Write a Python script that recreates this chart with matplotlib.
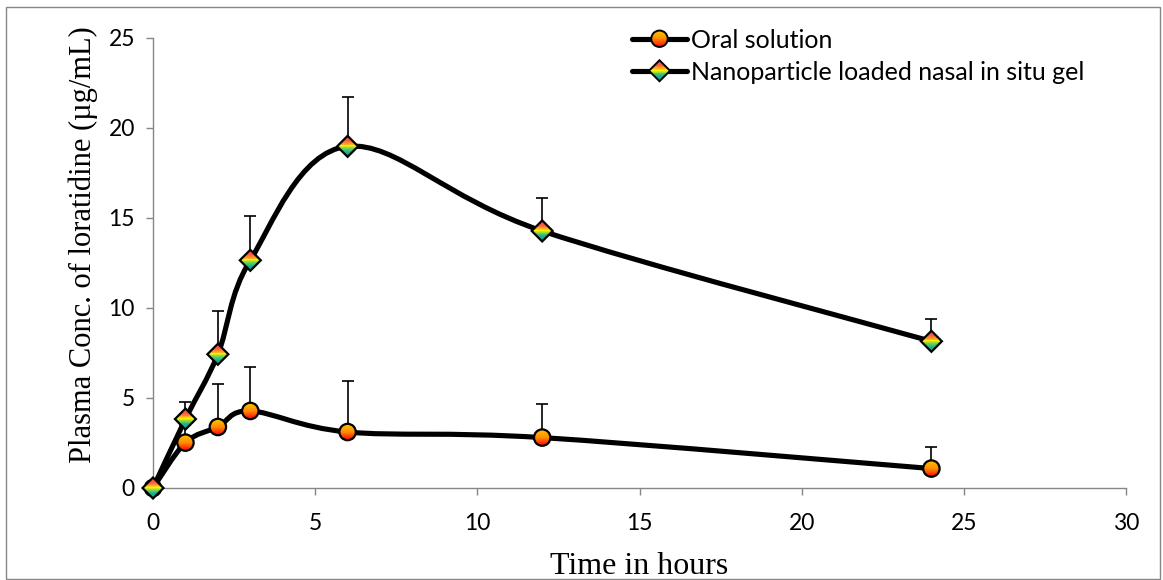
"""
    plasma concentration of loratidine vs time
"""

import numpy as np
import matplotlib.pyplot as plt
from matplotlib.path import Path
from matplotlib.patches import PathPatch, Rectangle, Circle, Polygon
from matplotlib.lines import Line2D
from matplotlib.legend_handler import HandlerBase
from matplotlib import transforms as mtransforms
from matplotlib.colors import LinearSegmentedColormap

time_h = [0, 1, 2, 3, 6, 12, 24]
oral = [0, 2.52, 3.39, 4.28, 3.11, 2.80, 1.08]
oral_sd = [0, 1.0, 2.41, 2.46, 2.83, 1.85, 1.20]
nano = [0, 3.83, 7.43, 12.65, 18.98, 14.28, 8.15]
nano_sd = [0, 0.97, 2.40, 2.45, 2.77, 1.85, 1.22]
labels = ['Oral solution', 'Nanoparticle loaded nasal in situ gel']

W, H = 1163, 580
fig = plt.figure(figsize=(W / 100, H / 100), dpi=100)
ax = fig.add_axes([153 / W, 1 - 488 / H, (1126 - 153) / W, 450 / H])

circle_cmap = LinearSegmentedColormap.from_list('c', ['#FF0000', '#FF8A00', '#FFC400'])
diamond_cmap = LinearSegmentedColormap.from_list(
    'd', [(0, '#009CA8'), (0.25, '#20B090'), (0.4, '#70D050'), (0.52, '#FFF200'),
          (0.63, '#FFA020'), (0.78, '#FF5A40'), (1, '#FF4858')])


def smooth_path(x, y):
    # excel style smoothed line (catmull-rom as cubic beziers)
    pts = np.column_stack([x, y]).astype(float)
    n = len(pts)
    verts = [pts[0]]
    codes = [Path.MOVETO]
    for i in range(n - 1):
        p0 = pts[i - 1] if i > 0 else pts[i]
        p1, p2 = pts[i], pts[i + 1]
        p3 = pts[i + 2] if i + 2 < n else pts[i + 1]
        verts += [p1 + (p2 - p0) / 6, p2 - (p3 - p1) / 6, p2]
        codes += [Path.CURVE4] * 3
    return Path(verts, codes)


def make_shape(kind, tr):
    if kind == 'o':
        return Circle((0, 0), 1, transform=tr)
    return Polygon([(0, 1), (1, 0), (0, -1), (-1, 0)], closed=True, transform=tr)


def gradient_marker(add, kind, cmap, tr, z, lw):
    shape = make_shape(kind, tr)
    arts = []
    nstrip = 24
    for k in range(nstrip):
        y0 = -1 + 2 * k / nstrip
        r = Rectangle((-1.05, y0), 2.1, 2 / nstrip + 0.01, transform=tr,
                      facecolor=cmap((k + 0.5) / nstrip), edgecolor='none', zorder=z)
        r.set_clip_path(shape)
        arts.append(r)
    edge = make_shape(kind, tr)
    edge.set_facecolor('none')
    edge.set_edgecolor('black')
    edge.set_linewidth(lw)
    edge.set_zorder(z + 0.1)
    arts.append(edge)
    for a in arts:
        add(a)
    return arts


for vals, sd in [(oral, oral_sd), (nano, nano_sd)]:
    ax.errorbar(time_h, vals, yerr=[np.zeros(len(sd)), sd], fmt='none', ecolor='black',
                elinewidth=1.2, capsize=4.5, capthick=1.2, zorder=1.5)

for vals in [oral, nano]:
    ax.add_patch(PathPatch(smooth_path(time_h, vals), fill=False, edgecolor='black',
                           lw=3.7, joinstyle='round', capstyle='round', zorder=2))

# markers (pixel sized shapes placed at data positions)
for vals, kind, cmap, r, z in [(oral, 'o', circle_cmap, 8.2, 3), (nano, 'D', diamond_cmap, 10.5, 4)]:
    for xv, yv in zip(time_h, vals):
        tr = mtransforms.Affine2D().scale(r) + mtransforms.ScaledTranslation(xv, yv, ax.transData)
        for a in gradient_marker(fig.add_artist, kind, cmap, tr, z, 1.6):
            a.set_clip_on(a.get_clip_path() is not None)


class GradHandler(HandlerBase):
    def __init__(self, kind, cmap, r):
        super().__init__()
        self.kind, self.cmap, self.r = kind, cmap, r

    def create_artists(self, legend, orig_handle, xdescent, ydescent, width, height, fontsize, trans):
        y = height / 2 - ydescent
        line = Line2D([-xdescent, width - xdescent], [y, y], color='black', lw=3.7,
                      solid_capstyle='round')
        line.set_transform(trans)
        tr = mtransforms.Affine2D().scale(self.r).translate(width / 2 - xdescent, y) + trans
        arts = [line]
        gradient_marker(arts.append, self.kind, self.cmap, tr, 3, 1.4)
        return arts


h1 = Line2D([], [])
h2 = Line2D([], [])
ax.legend([h1, h2], labels, loc='upper left', bbox_to_anchor=(632 / W, 1 - 28.5 / H),
          bbox_transform=fig.transFigure, frameon=False, borderpad=0, borderaxespad=0,
          handlelength=2.2, handletextpad=0.15, labelspacing=0.36,
          prop={'family': 'Lato', 'size': 18},
          handler_map={h1: GradHandler('o', circle_cmap, 8.2 * 0.72),
                       h2: GradHandler('D', diamond_cmap, 10.5 * 0.72)})

ax.set_xlim(0, 30)
ax.set_ylim(0, 25)
ax.set_xticks(range(0, 31, 5))
ax.set_yticks(range(0, 26, 5))
for s in ['top', 'right']:
    ax.spines[s].set_visible(False)
for s in ['left', 'bottom']:
    ax.spines[s].set_color('#868686')
    ax.spines[s].set_linewidth(1.0)
ax.tick_params(axis='both', direction='out', length=5, width=1.0, color='#868686',
               labelsize=16.5)
ax.tick_params(axis='x', pad=13)
ax.tick_params(axis='y', pad=8)
for t in ax.get_xticklabels() + ax.get_yticklabels():
    t.set_family('Lato')

ax.set_xlabel('Time in hours', family='Liberation Serif', fontsize=23, labelpad=13)
ax.set_ylabel('Plasma Conc. of loratidine (µg/mL)', family='Liberation Serif', fontsize=22)
ax.yaxis.set_label_coords(-0.057, 0.54)

# outer frame
fig.patches.append(Rectangle((6 / W, 1 / H), (W - 9) / W, (H - 8) / H, transform=fig.transFigure,
                             fill=False, edgecolor='#868686', lw=1.0))

plt.savefig('out.png', dpi=100)
plt.close()
